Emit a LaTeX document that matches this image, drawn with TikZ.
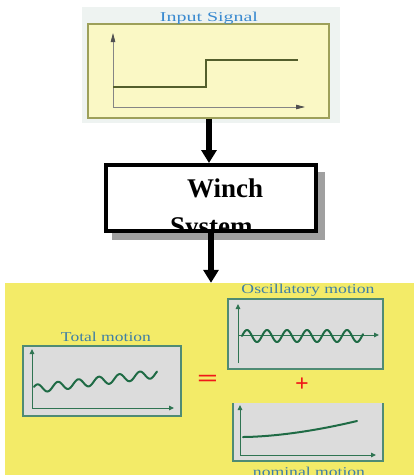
\documentclass[tikz,border=0pt]{standalone}
\usepackage{fontspec}
\setmainfont{Liberation Serif}
\usetikzlibrary{arrows.meta}

\definecolor{inBack}{HTML}{EEF3F1}
\definecolor{inFill}{HTML}{FAF8C5}
\definecolor{inBorder}{HTML}{9DA05A}
\definecolor{stepCol}{HTML}{535F2C}
\definecolor{axisGray}{HTML}{858585}
\definecolor{tipGray}{HTML}{505050}
\definecolor{shadowGray}{HTML}{A0A0A0}
\definecolor{motionBg}{HTML}{F3EB68}
\definecolor{plotFill}{HTML}{DCDCDC}
\definecolor{plotBorder}{HTML}{4F8B74}
\definecolor{axisGreen}{HTML}{2F7452}
\definecolor{waveCol}{HTML}{1F6B45}
\definecolor{titleBlue}{HTML}{3A8AD0}
\definecolor{titleTeal}{HTML}{3F7FA5}
\definecolor{signRed}{HTML}{F01818}

\begin{document}
\begin{tikzpicture}[x=1pt,y=-1pt,
  title/.style={inner sep=0pt, anchor=base, font=\fontsize{13.5}{14}\selectfont},
  flow/.style={line width=6pt, -{Triangle[width=15pt,length=13pt]}},
  plotbox/.style={fill=plotFill, draw=plotBorder, line width=1.2pt, inner sep=0pt},
  gaxis/.style={draw=axisGreen, line width=1pt, -{Triangle[width=4.5pt,length=5pt]}},
  inaxis/.style={draw=axisGray, line width=0.8pt, -{Triangle[width=4.5pt,length=9pt,color=tipGray]}},
  wave/.style={draw=waveCol, line width=2pt, line cap=round, line join=round},
  sign/.style={inner sep=0pt, text=signRed, font=\fontsize{24}{24}\selectfont\bfseries}]
\useasboundingbox (0,0) rectangle (414,475);

% ---------- input signal panel ----------
\fill[inBack] (82,7) rectangle (340,123);
\node[fill=inFill, draw=inBorder, line width=1.2pt, inner sep=0pt,
      minimum width=241pt, minimum height=94pt] (input) at (208.5,71) {};
\node[title, text=titleBlue] (inputtitle) at (209,21)
  {\resizebox{98pt}{\height}{Input Signal}};
\draw[inaxis] (113,107) -- (113,33);
\draw[inaxis] (113,107) -- (305,107);
\draw[stepCol, line width=2pt] (113,87) -- (206,87) -- (206,60) -- (298,60);

% ---------- winch block ----------
\fill[shadowGray] (112,172) rectangle (325,240);
\node[draw, line width=4pt, fill=white, inner sep=0pt,
      minimum width=210pt, minimum height=66pt] (winch) at (211,198) {};
\begin{scope}
  \clip (108,167) rectangle (314,229);
  \node[inner sep=0pt, anchor=base west, font=\fontsize{27}{27}\selectfont\bfseries]
    (winchA) at (187,197) {Winch};
  \node[inner sep=0pt, anchor=base west, font=\fontsize{27}{27}\selectfont\bfseries]
    (winchB) at (170,235) {System};
\end{scope}

% ---------- motion panel ----------
\node[fill=motionBg, inner sep=0pt, minimum width=409pt, minimum height=192pt]
  (motion) at (209.5,379) {};

% connectors
\coordinate (xa) at (209,0);
\coordinate (xb) at (211,0);
\draw[flow] (input.south -| xa) -- (winch.north -| xa);
\draw[flow] (winch.south -| xb) -- (motion.north -| xb);

% total motion
\node[plotbox, minimum width=158pt, minimum height=70pt] (total) at (102,381) {};
\node[title, text=titleTeal] (totaltitle) at (106,341)
  {\resizebox{90pt}{\height}{Total motion}};
\draw[gaxis] (32,408) -- (32,349);
\draw[gaxis] (32,408) -- (174,408);
\draw[wave] plot[domain=34:157, samples=140, smooth]
  (\x, {389 - 0.125*(\x-34) - 4.2*sin((\x-34)*17.56 + 30)});

% equals and plus
\node[sign] (eq) at (207.5,381) {\resizebox{21pt}{\height}{=}};
\node[sign] (plus) at (302,385) {+};

% oscillatory motion
\node[plotbox, minimum width=155pt, minimum height=70pt] (osc) at (305.5,334) {};
\node[title, text=titleTeal] (osctitle) at (308,293)
  {\resizebox{133pt}{\height}{Oscillatory motion}};
\draw[axisGreen, line width=1pt] (238,363) -- (238,335);
\draw[gaxis] (238,335) -- (238,304);
\draw[gaxis] (238,335) -- (379,335);
\draw[wave] plot[domain=242:363, samples=160, smooth]
  (\x, {336 - 6*sin((\x-242)*18)});

% nominal motion (panel without top edge)
\fill[plotFill] (233,403) rectangle (383,461);
\draw[plotBorder, line width=1.2pt] (233,403) -- (233,461) -- (383,461) -- (383,403);
\draw[gaxis] (240,455) -- (240,405);
\draw[gaxis] (240,455) -- (376,455);
\draw[wave] plot[domain=243:357, samples=60, smooth]
  (\x, {437 - 16*((\x-243)/114)^1.7});
\node[title, text=titleTeal] (nomtitle) at (309,476)
  {\resizebox{112pt}{\height}{nominal motion}};
\end{tikzpicture}
\end{document}
